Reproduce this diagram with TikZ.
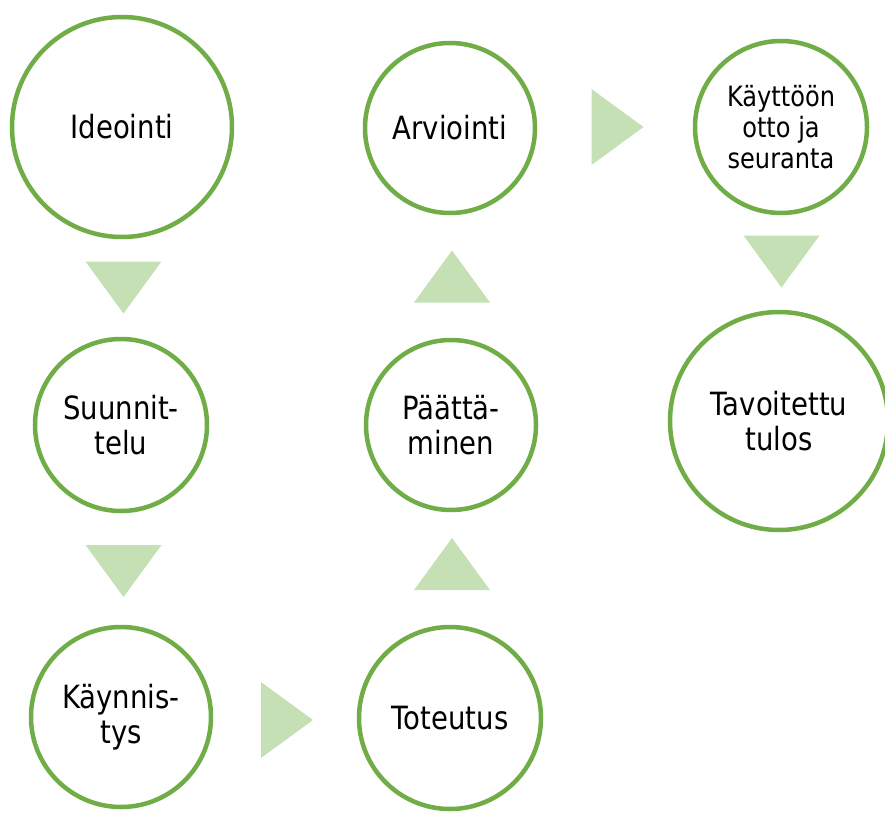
\documentclass[tikz,border=0pt]{standalone}
\usepackage{fontspec}
\setmainfont{DejaVu Sans}[FakeStretch=0.86]
\usetikzlibrary{positioning}
\usetikzlibrary{calc}

\definecolor{ringgreen}{HTML}{70AD47}
\definecolor{arrowgreen}{HTML}{C5E0B4}

\tikzset{
    phase/.style={circle, draw=ringgreen, line width=4.5pt, fill=white,
        align=center, inner sep=0pt, text=black,
        font=\fontsize{32}{35}\selectfont},
    smallphase/.style={phase, font=\fontsize{28}{31}\selectfont},
    flow/.pic={\fill[arrowgreen] (-26,-38) -- (26,0) -- (-26,38) -- cycle;}
}

\begin{document}
\begin{tikzpicture}[x=1pt, y=-1pt]
        \useasboundingbox (0,0) rectangle (885,816);

        % first column, going down
        \node[phase, minimum size=220pt] (ideointi) at (122,127) {Ideointi};
        \node[phase, minimum size=172pt] (suunnittelu) at (121,425) {Suunnit-\\telu};
        \node[phase, minimum size=180pt] (kaynnistys) at (121,717) {Käynnis-\\tys};

        % second column, going up
        \node[phase, minimum size=182pt] (toteutus) at (450,718) {Toteutus};
        \node[phase, minimum size=170pt] (paattaminen) at (451,425) {Päättä-\\minen};
        \node[phase, minimum size=170pt] (arviointi) at (450,128) {Arviointi};

        % third column
        \node[smallphase, minimum size=172pt] (kayttoonotto) at (781,127) {Käyttöön\\otto ja\\seuranta};
        \node[phase, minimum size=218pt] (tulos) at (779,421) {Tavoitettu\\tulos};

        % arrows between the phases
        \pic[rotate=-90] (a1) at (123.5,287.5) {flow};
        \pic[rotate=-90] (a2) at (123.5,571) {flow};
        \pic (a3) at (287,720) {flow};
        \pic[rotate=90] (a4) at (452,564) {flow};
        \pic[rotate=90] (a5) at (452,276.5) {flow};
        \pic (a6) at (617.5,127) {flow};
        \pic[rotate=-90] (a7) at (781.5,261.5) {flow};

    \end{tikzpicture}
\end{document}
